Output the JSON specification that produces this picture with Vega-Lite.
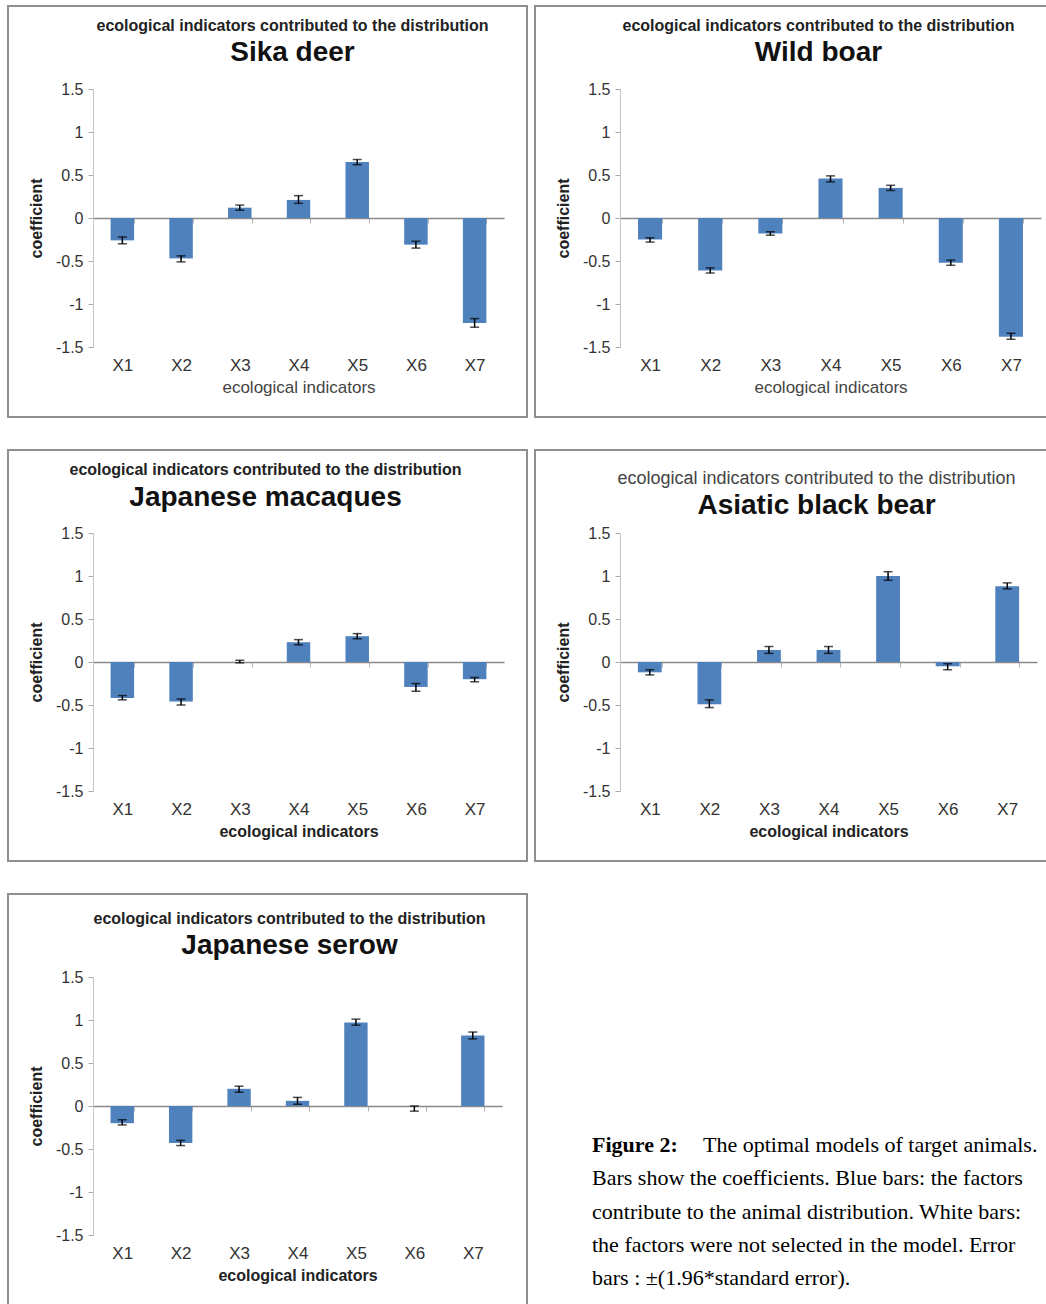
{
  "$schema": "https://vega.github.io/schema/vega-lite/v6.json",
  "padding": {"left": 7, "top": 5, "right": 0, "bottom": 0},
  "datasets": {
    "coef": [
      {"species": "Sika deer", "ind": "X1", "value": -0.26, "lo": -0.30, "hi": -0.22},
      {"species": "Sika deer", "ind": "X2", "value": -0.47, "lo": -0.51, "hi": -0.44},
      {"species": "Sika deer", "ind": "X3", "value": 0.12, "lo": 0.09, "hi": 0.15},
      {"species": "Sika deer", "ind": "X4", "value": 0.21, "lo": 0.17, "hi": 0.26},
      {"species": "Sika deer", "ind": "X5", "value": 0.65, "lo": 0.62, "hi": 0.68},
      {"species": "Sika deer", "ind": "X6", "value": -0.31, "lo": -0.35, "hi": -0.27},
      {"species": "Sika deer", "ind": "X7", "value": -1.22, "lo": -1.27, "hi": -1.17},
      {"species": "Wild boar", "ind": "X1", "value": -0.25, "lo": -0.28, "hi": -0.23},
      {"species": "Wild boar", "ind": "X2", "value": -0.61, "lo": -0.64, "hi": -0.58},
      {"species": "Wild boar", "ind": "X3", "value": -0.18, "lo": -0.20, "hi": -0.16},
      {"species": "Wild boar", "ind": "X4", "value": 0.46, "lo": 0.42, "hi": 0.49},
      {"species": "Wild boar", "ind": "X5", "value": 0.35, "lo": 0.32, "hi": 0.38},
      {"species": "Wild boar", "ind": "X6", "value": -0.52, "lo": -0.55, "hi": -0.49},
      {"species": "Wild boar", "ind": "X7", "value": -1.38, "lo": -1.41, "hi": -1.34},
      {"species": "Japanese macaques", "ind": "X1", "value": -0.42, "lo": -0.44, "hi": -0.39},
      {"species": "Japanese macaques", "ind": "X2", "value": -0.46, "lo": -0.50, "hi": -0.43},
      {"species": "Japanese macaques", "ind": "X3", "value": 0, "lo": -0.01, "hi": 0.02},
      {"species": "Japanese macaques", "ind": "X4", "value": 0.23, "lo": 0.20, "hi": 0.26},
      {"species": "Japanese macaques", "ind": "X5", "value": 0.30, "lo": 0.27, "hi": 0.33},
      {"species": "Japanese macaques", "ind": "X6", "value": -0.29, "lo": -0.34, "hi": -0.25},
      {"species": "Japanese macaques", "ind": "X7", "value": -0.20, "lo": -0.23, "hi": -0.18},
      {"species": "Asiatic black bear", "ind": "X1", "value": -0.12, "lo": -0.15, "hi": -0.09},
      {"species": "Asiatic black bear", "ind": "X2", "value": -0.49, "lo": -0.53, "hi": -0.44},
      {"species": "Asiatic black bear", "ind": "X3", "value": 0.14, "lo": 0.10, "hi": 0.18},
      {"species": "Asiatic black bear", "ind": "X4", "value": 0.14, "lo": 0.10, "hi": 0.18},
      {"species": "Asiatic black bear", "ind": "X5", "value": 1.00, "lo": 0.95, "hi": 1.05},
      {"species": "Asiatic black bear", "ind": "X6", "value": -0.05, "lo": -0.09, "hi": -0.02},
      {"species": "Asiatic black bear", "ind": "X7", "value": 0.88, "lo": 0.85, "hi": 0.92},
      {"species": "Japanese serow", "ind": "X1", "value": -0.20, "lo": -0.22, "hi": -0.16},
      {"species": "Japanese serow", "ind": "X2", "value": -0.43, "lo": -0.46, "hi": -0.40},
      {"species": "Japanese serow", "ind": "X3", "value": 0.20, "lo": 0.16, "hi": 0.23},
      {"species": "Japanese serow", "ind": "X4", "value": 0.06, "lo": 0.02, "hi": 0.10},
      {"species": "Japanese serow", "ind": "X5", "value": 0.97, "lo": 0.94, "hi": 1.01},
      {"species": "Japanese serow", "ind": "X6", "value": 0, "lo": -0.06, "hi": 0.0},
      {"species": "Japanese serow", "ind": "X7", "value": 0.82, "lo": 0.78, "hi": 0.86}
    ],
    "caption": [
      {"line": 1, "part": "label", "text": "Figure 2:"},
      {"line": 1, "part": "first", "text": "The optimal models of target animals."},
      {"line": 2, "part": "body", "text": "Bars show the coefficients. Blue bars: the factors"},
      {"line": 3, "part": "body", "text": "contribute to the animal distribution. White bars:"},
      {"line": 4, "part": "body", "text": "the factors were not selected in the model. Error"},
      {"line": 5, "part": "body", "text": "bars : ±(1.96*standard error)."}
    ]
  },
  "spacing": 31,
  "vconcat": [
    {
      "spacing": 6,
      "hconcat": [
        {
          "width": 519, "height": 411,
          "title": {"text": "ecological indicators contributed to the distribution", "subtitle": "Sika deer", "offset": -61, "dx": 25, "subtitlePadding": 5},
          "data": {"name": "coef"},
          "transform": [{"filter": "datum.species === 'Sika deer'"}],
          "encoding": {"x": {"field": "ind", "type": "nominal", "title": "ecological indicators", "scale": {"type": "band", "range": [85, 496], "paddingInner": 0.6, "paddingOuter": 0.3}, "axis": {"titleFontWeight": "normal", "titleFontSize": 17, "titleColor": "#444"}}},
          "layer": [
            {"mark": {"type": "bar", "color": "#4F81BD"}, "encoding": {"y": {"field": "value", "type": "quantitative", "title": "coefficient", "scale": {"domain": [-1.5, 1.5], "range": [341, 83], "nice": false, "zero": false}, "axis": {"values": [-1.5, -1, -0.5, 0, 0.5, 1, 1.5], "labelExpr": "'' + datum.value"}}}},
            {"mark": {"type": "rule", "color": "black", "strokeWidth": 1.5}, "encoding": {"y": {"field": "lo", "type": "quantitative", "title": "coefficient", "scale": {"domain": [-1.5, 1.5], "range": [341, 83], "nice": false, "zero": false}}, "y2": {"field": "hi"}}},
            {"mark": {"type": "tick", "color": "black", "size": 9, "thickness": 1.5}, "encoding": {"y": {"field": "lo", "type": "quantitative", "title": "coefficient", "scale": {"domain": [-1.5, 1.5], "range": [341, 83], "nice": false, "zero": false}}}},
            {"mark": {"type": "tick", "color": "black", "size": 9, "thickness": 1.5}, "encoding": {"y": {"field": "hi", "type": "quantitative", "title": "coefficient", "scale": {"domain": [-1.5, 1.5], "range": [341, 83], "nice": false, "zero": false}}}}
          ]
        },
        {
          "width": 519, "height": 411,
          "title": {"text": "ecological indicators contributed to the distribution", "subtitle": "Wild boar", "offset": -61, "dx": 24, "subtitlePadding": 5},
          "data": {"name": "coef"},
          "transform": [{"filter": "datum.species === 'Wild boar'"}],
          "encoding": {"x": {"field": "ind", "type": "nominal", "title": "ecological indicators", "scale": {"type": "band", "range": [85, 506], "paddingInner": 0.6, "paddingOuter": 0.3}, "axis": {"titleFontWeight": "normal", "titleFontSize": 17, "titleColor": "#444"}}},
          "layer": [
            {"mark": {"type": "bar", "color": "#4F81BD"}, "encoding": {"y": {"field": "value", "type": "quantitative", "title": "coefficient", "scale": {"domain": [-1.5, 1.5], "range": [341, 83], "nice": false, "zero": false}, "axis": {"values": [-1.5, -1, -0.5, 0, 0.5, 1, 1.5], "labelExpr": "'' + datum.value"}}}},
            {"mark": {"type": "rule", "color": "black", "strokeWidth": 1.5}, "encoding": {"y": {"field": "lo", "type": "quantitative", "title": "coefficient", "scale": {"domain": [-1.5, 1.5], "range": [341, 83], "nice": false, "zero": false}}, "y2": {"field": "hi"}}},
            {"mark": {"type": "tick", "color": "black", "size": 9, "thickness": 1.5}, "encoding": {"y": {"field": "lo", "type": "quantitative", "title": "coefficient", "scale": {"domain": [-1.5, 1.5], "range": [341, 83], "nice": false, "zero": false}}}},
            {"mark": {"type": "tick", "color": "black", "size": 9, "thickness": 1.5}, "encoding": {"y": {"field": "hi", "type": "quantitative", "title": "coefficient", "scale": {"domain": [-1.5, 1.5], "range": [341, 83], "nice": false, "zero": false}}}}
          ]
        }
      ]
    },
    {
      "spacing": 6,
      "hconcat": [
        {
          "width": 519, "height": 411,
          "title": {"text": "ecological indicators contributed to the distribution", "subtitle": "Japanese macaques", "offset": -62, "dx": -2, "subtitlePadding": 6},
          "data": {"name": "coef"},
          "transform": [{"filter": "datum.species === 'Japanese macaques'"}],
          "encoding": {"x": {"field": "ind", "type": "nominal", "title": "ecological indicators", "scale": {"type": "band", "range": [85, 496], "paddingInner": 0.6, "paddingOuter": 0.3}}},
          "layer": [
            {"mark": {"type": "bar", "color": "#4F81BD"}, "encoding": {"y": {"field": "value", "type": "quantitative", "title": "coefficient", "scale": {"domain": [-1.5, 1.5], "range": [341, 83], "nice": false, "zero": false}, "axis": {"values": [-1.5, -1, -0.5, 0, 0.5, 1, 1.5], "labelExpr": "'' + datum.value"}}}},
            {"mark": {"type": "rule", "color": "black", "strokeWidth": 1.5}, "encoding": {"y": {"field": "lo", "type": "quantitative", "title": "coefficient", "scale": {"domain": [-1.5, 1.5], "range": [341, 83], "nice": false, "zero": false}}, "y2": {"field": "hi"}}},
            {"mark": {"type": "tick", "color": "black", "size": 9, "thickness": 1.5}, "encoding": {"y": {"field": "lo", "type": "quantitative", "title": "coefficient", "scale": {"domain": [-1.5, 1.5], "range": [341, 83], "nice": false, "zero": false}}}},
            {"mark": {"type": "tick", "color": "black", "size": 9, "thickness": 1.5}, "encoding": {"y": {"field": "hi", "type": "quantitative", "title": "coefficient", "scale": {"domain": [-1.5, 1.5], "range": [341, 83], "nice": false, "zero": false}}}}
          ]
        },
        {
          "width": 519, "height": 411,
          "title": {"text": "ecological indicators contributed to the distribution", "subtitle": "Asiatic black bear", "offset": -70, "dx": 22, "fontWeight": "normal", "color": "#444", "fontSize": 18, "subtitlePadding": 4},
          "data": {"name": "coef"},
          "transform": [{"filter": "datum.species === 'Asiatic black bear'"}],
          "encoding": {"x": {"field": "ind", "type": "nominal", "title": "ecological indicators", "scale": {"type": "band", "range": [85, 502], "paddingInner": 0.6, "paddingOuter": 0.3}}},
          "layer": [
            {"mark": {"type": "bar", "color": "#4F81BD"}, "encoding": {"y": {"field": "value", "type": "quantitative", "title": "coefficient", "scale": {"domain": [-1.5, 1.5], "range": [341, 83], "nice": false, "zero": false}, "axis": {"values": [-1.5, -1, -0.5, 0, 0.5, 1, 1.5], "labelExpr": "'' + datum.value"}}}},
            {"mark": {"type": "rule", "color": "black", "strokeWidth": 1.5}, "encoding": {"y": {"field": "lo", "type": "quantitative", "title": "coefficient", "scale": {"domain": [-1.5, 1.5], "range": [341, 83], "nice": false, "zero": false}}, "y2": {"field": "hi"}}},
            {"mark": {"type": "tick", "color": "black", "size": 9, "thickness": 1.5}, "encoding": {"y": {"field": "lo", "type": "quantitative", "title": "coefficient", "scale": {"domain": [-1.5, 1.5], "range": [341, 83], "nice": false, "zero": false}}}},
            {"mark": {"type": "tick", "color": "black", "size": 9, "thickness": 1.5}, "encoding": {"y": {"field": "hi", "type": "quantitative", "title": "coefficient", "scale": {"domain": [-1.5, 1.5], "range": [341, 83], "nice": false, "zero": false}}}}
          ]
        }
      ]
    },
    {
      "spacing": 64,
      "hconcat": [
        {
          "width": 519, "height": 411,
          "title": {"text": "ecological indicators contributed to the distribution", "subtitle": "Japanese serow", "offset": -66, "dx": 22, "subtitlePadding": 5},
          "data": {"name": "coef"},
          "transform": [{"filter": "datum.species === 'Japanese serow'"}],
          "encoding": {"x": {"field": "ind", "type": "nominal", "title": "ecological indicators", "scale": {"type": "band", "range": [85, 494], "paddingInner": 0.6, "paddingOuter": 0.3}}},
          "layer": [
            {"mark": {"type": "bar", "color": "#4F81BD"}, "encoding": {"y": {"field": "value", "type": "quantitative", "title": "coefficient", "scale": {"domain": [-1.5, 1.5], "range": [341, 83], "nice": false, "zero": false}, "axis": {"values": [-1.5, -1, -0.5, 0, 0.5, 1, 1.5], "labelExpr": "'' + datum.value"}}}},
            {"mark": {"type": "rule", "color": "black", "strokeWidth": 1.5}, "encoding": {"y": {"field": "lo", "type": "quantitative", "title": "coefficient", "scale": {"domain": [-1.5, 1.5], "range": [341, 83], "nice": false, "zero": false}}, "y2": {"field": "hi"}}},
            {"mark": {"type": "tick", "color": "black", "size": 9, "thickness": 1.5}, "encoding": {"y": {"field": "lo", "type": "quantitative", "title": "coefficient", "scale": {"domain": [-1.5, 1.5], "range": [341, 83], "nice": false, "zero": false}}}},
            {"mark": {"type": "tick", "color": "black", "size": 9, "thickness": 1.5}, "encoding": {"y": {"field": "hi", "type": "quantitative", "title": "coefficient", "scale": {"domain": [-1.5, 1.5], "range": [341, 83], "nice": false, "zero": false}}}}
          ]
        },
        {
          "width": 440, "height": 411,
          "view": {"stroke": null},
          "data": {"name": "caption"},
          "encoding": {
            "y": {"field": "line", "type": "ordinal", "scale": {"type": "point", "range": [251, 384], "padding": 0}, "axis": null},
            "text": {"field": "text"}
          },
          "layer": [
            {"transform": [{"filter": "datum.part === 'label'"}], "mark": {"type": "text", "align": "left", "baseline": "middle", "font": "Liberation Serif", "fontSize": 22, "fontWeight": "bold", "color": "black"}, "encoding": {"x": {"value": 0}}},
            {"transform": [{"filter": "datum.part === 'first'"}], "mark": {"type": "text", "align": "left", "baseline": "middle", "font": "Liberation Serif", "fontSize": 22, "color": "black", "dx": 111}, "encoding": {"x": {"value": 0}}},
            {"transform": [{"filter": "datum.part === 'body'"}], "mark": {"type": "text", "align": "left", "baseline": "middle", "font": "Liberation Serif", "fontSize": 22, "color": "black"}, "encoding": {"x": {"value": 0}}}
          ]
        }
      ]
    }
  ],
  "config": {
    "background": "white",
    "view": {"stroke": "#8f8f8f", "strokeWidth": 2},
    "font": "Liberation Sans",
    "axis": {"grid": false, "labelFont": "Liberation Sans", "titleFont": "Liberation Sans"},
    "axisX": {"offset": -199, "domainColor": "#8a8a8a", "domainWidth": 1.5, "tickColor": "#b5b5b5", "tickSize": 5, "tickBand": "extent", "labelPadding": 134, "labelFontSize": 17, "labelColor": "#333333", "labelAngle": 0, "titleFontSize": 16, "titleFontWeight": "bold", "titleColor": "#222222", "titlePadding": 6, "zindex": 1},
    "axisY": {"offset": -85, "domainColor": "#c4c4c4", "tickColor": "#a8a8a8", "tickSize": 5, "labelPadding": 5, "labelFontSize": 16, "labelColor": "#333333", "titleFontSize": 16, "titleFontWeight": "bold", "titleColor": "#222222", "titlePadding": 11},
    "title": {"font": "Liberation Sans", "fontSize": 16, "fontWeight": "bold", "color": "#222222", "subtitleFont": "Liberation Sans", "subtitleFontSize": 28, "subtitleFontWeight": "bold", "subtitleColor": "#111111", "subtitlePadding": 4, "anchor": "middle"}
  }
}
